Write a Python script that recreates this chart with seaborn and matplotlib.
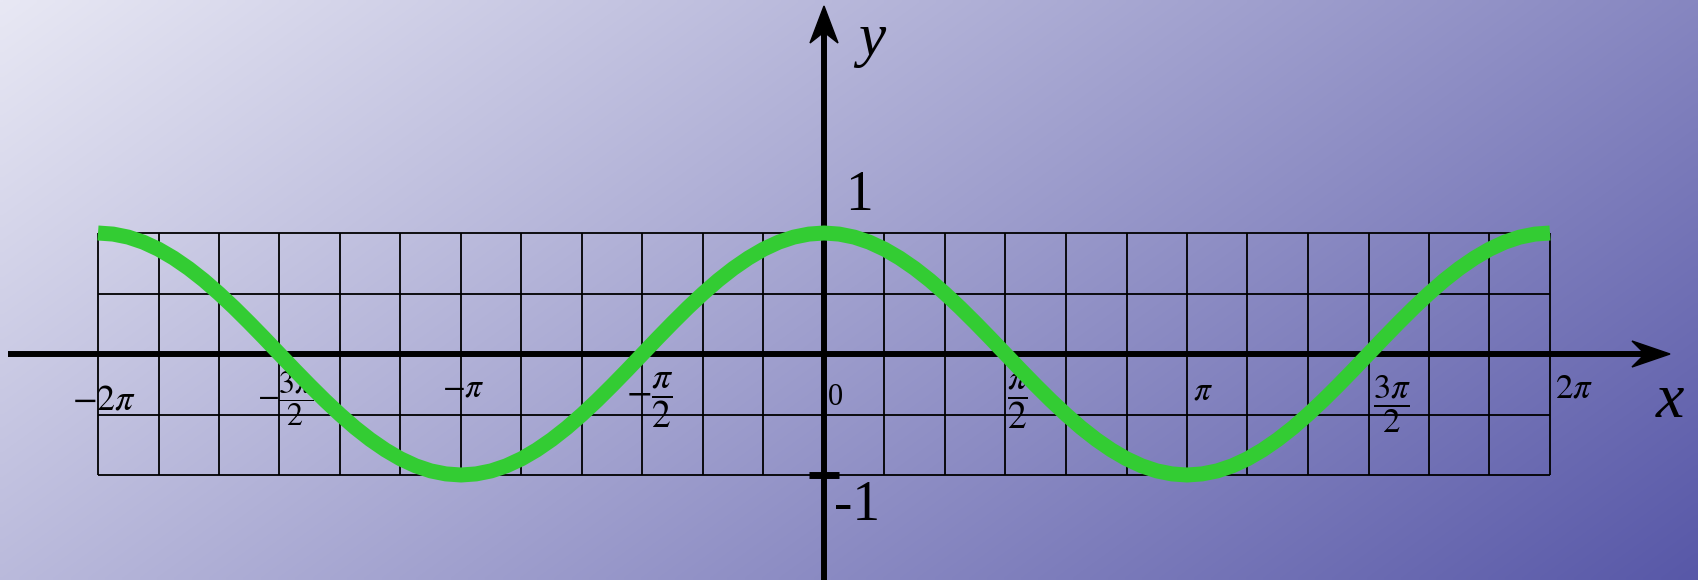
import matplotlib
matplotlib.use("Agg")
import matplotlib.pyplot as plt
import seaborn as sns
import numpy as np
import pandas as pd
from matplotlib.patches import Polygon

# curve samples, x in steps of pi/24 from -2pi to 2pi
x_steps = np.arange(-48, 49)
y_vals = [1.0, 0.991, 0.966, 0.924, 0.866, 0.793, 0.707, 0.609, 0.5, 0.383, 0.259, 0.131,
          0.0, -0.131, -0.259, -0.383, -0.5, -0.609, -0.707, -0.793, -0.866, -0.924, -0.966, -0.991,
          -1.0, -0.991, -0.966, -0.924, -0.866, -0.793, -0.707, -0.609, -0.5, -0.383, -0.259, -0.131,
          0.0, 0.131, 0.259, 0.383, 0.5, 0.609, 0.707, 0.793, 0.866, 0.924, 0.966, 0.991,
          1.0, 0.991, 0.966, 0.924, 0.866, 0.793, 0.707, 0.609, 0.5, 0.383, 0.259, 0.131,
          0.0, -0.131, -0.259, -0.383, -0.5, -0.609, -0.707, -0.793, -0.866, -0.924, -0.966, -0.991,
          -1.0, -0.991, -0.966, -0.924, -0.866, -0.793, -0.707, -0.609, -0.5, -0.383, -0.259, -0.131,
          0.0, 0.131, 0.259, 0.383, 0.5, 0.609, 0.707, 0.793, 0.866, 0.924, 0.966, 0.991,
          1.0]
tick_labels = [r'$-2\pi$', r'$-\dfrac{3\pi}{2}$', r'$-\pi$', r'$-\dfrac{\pi}{2}$', '0',
               r'$\dfrac{\pi}{2}$', r'$\pi$', r'$\dfrac{3\pi}{2}$', r'$2\pi$']
y_grid = [-1, -0.5, 0, 0.5, 1]

df = pd.DataFrame({"x": x_steps * np.pi / 24, "y": y_vals})

plt.rcParams['mathtext.fontset'] = 'stix'

W, H = 1698, 580
fig = plt.figure(figsize=(W / 100, H / 100), dpi=100)
ax = fig.add_axes([0, 0, 1, 1])

# pixel -> data helper (x=0 at px 824, y=0 at px 354)
SX, SY = 726 / (2 * np.pi), 121.0
def px(xp, yp):
    return (xp - 824) / SX, (354 - yp) / SY

x0, y1 = px(0, 0)
x1, y0 = px(W, H)
ax.set_xlim(x0, x1)
ax.set_ylim(y0, y1)
ax.axis('off')

# gradient background
gx = np.linspace(0, 1, 300)
gy = np.linspace(0, 1, 120)
GX, GY = np.meshgrid(gx, gy)
t = 0.68 * GX + 0.32 * GY
c0 = np.array([232, 232, 244]) / 255
c1 = np.array([88, 88, 168]) / 255
img = c0[None, None, :] + (c1 - c0)[None, None, :] * t[:, :, None]
ax.imshow(img, extent=[x0, x1, y0, y1], aspect='auto', origin='upper',
          interpolation='bilinear', zorder=0)

# grid
gridx = np.arange(-12, 13) * np.pi / 6
ax.vlines(gridx, -1, 1, color='black', lw=1.3, zorder=1)
ax.hlines(y_grid, -2 * np.pi, 2 * np.pi, color='black', lw=1.3, zorder=1)

# axes with arrows
xa, ya = px(8, 354)
xb, _ = px(1648, 354)
ax.plot([xa, xb], [0, 0], color='black', lw=4.3, solid_capstyle='butt', zorder=2)
_, yb = px(824, 580)
_, yt = px(824, 30)
ax.plot([0, 0], [yb, yt], color='black', lw=4.3, solid_capstyle='butt', zorder=2)
ax.add_patch(Polygon([px(1670, 354), px(1632, 341), px(1645, 354), px(1632, 367)],
                     closed=True, color='black', zorder=2))
ax.add_patch(Polygon([px(824, 6), px(810, 43), px(824, 32), px(838, 43)],
                     closed=True, color='black', zorder=2))
tx0, ty = px(809, 475)
tx1, _ = px(839, 475)
ax.plot([tx0, tx1], [ty, ty], color='black', lw=5, solid_capstyle='butt', zorder=2)

# tick labels
lab_pos = [(104, 400), (286, 399), (463, 387), (650, 400), (835, 395),
           (1018, 401), (1203, 390), (1392, 404), (1574, 388)]
lab_size = [26, 23, 24, 27, 22, 27, 24, 25, 25]
for s, (xp, yp), fs in zip(tick_labels, lab_pos, lab_size):
    if s == '0':
        ax.text(*px(xp, 405), s, fontsize=fs, family='Liberation Serif',
                ha='center', va='baseline', zorder=3)
    else:
        ax.text(*px(xp, yp), s, fontsize=fs, ha='center', va='center', zorder=3)

ax.text(*px(859, 210), '1', fontsize=40, family='Liberation Serif',
        ha='center', va='baseline', zorder=3)
ax.text(*px(857, 520), '-1', fontsize=40, family='Liberation Serif',
        ha='center', va='baseline', zorder=3)
ax.text(*px(872, 55), 'y', fontsize=44, family='Liberation Serif', style='italic',
        ha='center', va='baseline', zorder=3)
ax.text(*px(1670, 417), 'x', fontsize=46, family='Liberation Serif', style='italic',
        ha='center', va='baseline', zorder=3)

# the curve
sns.lineplot(data=df, x="x", y="y", ax=ax, color='#33cc33', linewidth=10.8, zorder=4)
ax.lines[-1].set_solid_capstyle('butt')
ax.lines[-1].set_solid_joinstyle('round')
ax.set_xlim(x0, x1)
ax.set_ylim(y0, y1)

fig.savefig("out.png", dpi=100)
